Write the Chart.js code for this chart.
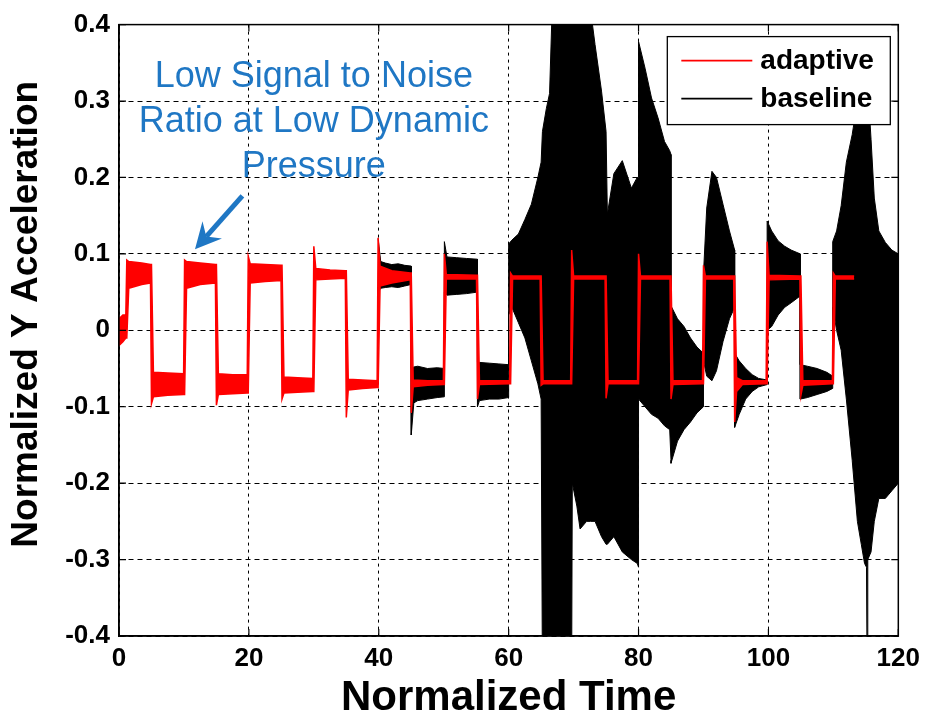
<!DOCTYPE html>
<html>
<head>
<meta charset="utf-8">
<script src="https://cdn.jsdelivr.net/npm/chart.js"></script>
<style>
  html, body { margin: 0; padding: 0; background: #ffffff; }
  #wrap { width: 927px; height: 724px; position: relative; }
</style>
</head>
<body>
<div id="wrap"><canvas id="chart" width="927" height="724"></canvas></div>
<script>
// ---------------- data ----------------
const seriesNames = ['adaptive', 'baseline'];

// "adaptive" (red): running max / min of the noisy square wave.
// At each switching instant the envelope spans both levels (that is the switching stroke).
const adaptiveTime = [
  0, 0.6, 1.05,
  1.2, 1.5, 3.5, 4.85,
  5.0, 5.3, 7.5, 9.95,
  10.1, 10.4, 12.5, 14.85,
  15.0, 15.3, 17.5, 19.75,
  19.9, 20.2, 22.5, 24.95,
  25.1, 25.4, 27.5, 29.85,
  30.0, 30.3, 32.5, 34.85,
  35.0, 35.3, 37.5, 39.75,
  39.9, 40.2, 42, 44.85,
  45.0, 45.3, 47.5, 49.95,
  50.1, 50.4, 55.05,
  55.2, 55.5, 60.15,
  60.3, 60.6, 64.85,
  65.0, 65.3, 69.55,
  69.7, 70.0, 74.85,
  75.0, 75.3, 79.85,
  80.0, 80.3, 84.85,
  85.0, 85.3, 89.85,
  90.0, 90.3, 94.65,
  94.8, 95.1, 96, 99.65,
  99.8, 100.1, 104.85,
  105.0, 105.3, 109.85,
  110.0, 110.3, 113.2
];
const adaptiveUpper = [
  0.015, 0.02, 0.02,
  0.092, 0.09, 0.088, 0.086,
  0.086, -0.055, -0.056, -0.057,
  0.092, 0.09, 0.088, 0.086,
  0.086, -0.057, -0.058, -0.058,
  0.097, 0.087, 0.086, 0.085,
  0.085, -0.061, -0.062, -0.063,
  0.11, 0.081, 0.079, 0.078,
  0.078, -0.064, -0.065, -0.066,
  0.121, 0.084, 0.078, 0.075,
  0.075, -0.065, -0.066, -0.066,
  0.1, 0.073, 0.072,
  0.072, -0.066, -0.066,
  0.075, 0.071, 0.071,
  0.071, -0.066, -0.066,
  0.105, 0.071, 0.071,
  0.071, -0.066, -0.066,
  0.1, 0.071, 0.071,
  0.071, -0.066, -0.066,
  0.085, 0.071, 0.071,
  0.071, -0.062, -0.066, -0.066,
  0.116, 0.072, 0.071,
  0.071, -0.066, -0.066,
  0.075, 0.071, 0.071
];
const adaptiveLower = [
  -0.02, -0.015, -0.01,
  -0.01, 0.055, 0.06, 0.062,
  -0.096, -0.087, -0.085, -0.084,
  -0.084, 0.055, 0.06, 0.062,
  -0.098, -0.084, -0.083, -0.082,
  -0.082, 0.062, 0.064, 0.065,
  -0.09, -0.082, -0.081, -0.08,
  -0.08, 0.066, 0.067, 0.068,
  -0.114, -0.078, -0.076, -0.075,
  -0.075, 0.058, 0.062, 0.066,
  -0.108, -0.074, -0.072, -0.071,
  -0.071, 0.067, 0.067,
  -0.09, -0.071, -0.07,
  -0.07, 0.067, 0.067,
  -0.072, -0.07, -0.07,
  -0.07, 0.067, 0.067,
  -0.089, -0.07, -0.07,
  -0.07, 0.067, 0.067,
  -0.09, -0.071, -0.07,
  -0.07, 0.067, 0.067,
  -0.12, -0.08, -0.071, -0.07,
  -0.07, 0.066, 0.067,
  -0.085, -0.072, -0.07,
  -0.07, 0.067, 0.067
];

// "baseline" (black): running max / min of the oscillation
const baselineTime = [
  39.9, 40.3, 41, 42, 43, 44, 45.0,
  45.0, 45.4, 46, 47.5, 49, 50.1,
  50.1, 50.5, 52, 53.5, 55.2,
  55.2, 55.5, 57, 58.5, 60.0,
  60.0, 60.5, 61.5, 62.5, 63.5, 64.5, 65.0,
  65.2, 65.8, 66.3, 66.8, 68, 69.7,
  69.8, 70.5, 71, 72, 72.6, 73.3, 74.3, 75.0,
  75.2, 76.2, 77.5, 78.9, 79.8, 80.0,
  80.0, 81, 82, 83, 84, 84.8, 85.0,
  85.0, 86, 87, 88, 89, 90.0,
  90.0, 90.5, 91.3, 92, 93, 94, 94.8,
  94.8, 95.5, 96.5, 97.5, 98.5, 99.8,
  99.8, 100.5, 101.5, 102.5, 103.5, 104.9,
  104.9, 106, 107.5, 109, 109.9,
  109.9, 110.5, 111.2, 112, 112.9, 113.7, 114.3, 114.8, 115.1, 115.2, 115.3, 115.8, 116.3, 117, 118, 119, 120
];
const baselineUpper = [
  0.12, 0.09, 0.088, 0.086, 0.087, 0.085, 0.084,
  -0.05, -0.048, -0.047, -0.05, -0.049, -0.05,
  0.116, 0.096, 0.095, 0.094, 0.093,
  -0.042, -0.042, -0.043, -0.044, -0.045,
  0.113, 0.118, 0.126, 0.145, 0.165, 0.2, 0.22,
  0.26, 0.29, 0.31, 0.45, 0.45, 0.45,
  0.45, 0.45, 0.45, 0.45, 0.42, 0.374, 0.313, 0.26,
  0.152, 0.205, 0.222, 0.186, 0.2, 0.2,
  0.378, 0.343, 0.304, 0.278, 0.247, 0.235, 0.23,
  0.032, 0.015, 0.005, -0.01, -0.022, -0.03,
  0.074, 0.16, 0.208, 0.2, 0.165, 0.13, 0.105,
  -0.03, -0.04, -0.05, -0.058, -0.063, -0.065,
  0.143, 0.13, 0.117, 0.11, 0.105, 0.1,
  -0.045, -0.047, -0.05, -0.055, -0.06,
  0.116, 0.13, 0.163, 0.22, 0.256, 0.3, 0.36, 0.36, 0.34, 0.33, 0.32, 0.25, 0.173, 0.13, 0.115, 0.105, 0.1
];
const baselineLower = [
  0.05, 0.055, 0.056, 0.057, 0.056, 0.058, 0.06,
  -0.137, -0.095, -0.092, -0.09, -0.088, -0.087,
  0.05, 0.046, 0.047, 0.048, 0.05,
  -0.1, -0.092, -0.09, -0.09, -0.088,
  0.02, 0.03, 0.01, -0.01, -0.04, -0.07, -0.09,
  -0.45, -0.45, -0.45, -0.45, -0.45, -0.45,
  -0.2, -0.23, -0.26, -0.25, -0.25, -0.25, -0.27, -0.28,
  -0.28, -0.27, -0.29, -0.3, -0.305, -0.31,
  -0.09, -0.1, -0.11, -0.115, -0.125, -0.13, -0.17,
  -0.174, -0.145, -0.13, -0.12, -0.108, -0.1,
  -0.04, -0.06, -0.066, -0.053, -0.015, 0.015, 0.03,
  -0.127, -0.11, -0.09, -0.08, -0.074, -0.071,
  0.0, 0.005, 0.02, 0.03, 0.036, 0.045,
  -0.09, -0.088, -0.084, -0.08, -0.076,
  0.03, 0.0, -0.026, -0.09, -0.17, -0.25, -0.28, -0.305, -0.31, -0.45, -0.3, -0.29, -0.25, -0.22, -0.22, -0.21, -0.2
];

const xTicks = [0, 20, 40, 60, 80, 100, 120];
const xTickLabels = ['0', '20', '40', '60', '80', '100', '120'];
const yTicks = [-0.4, -0.3, -0.2, -0.1, 0, 0.1, 0.2, 0.3, 0.4];
const yTickLabels = ['-0.4', '-0.3', '-0.2', '-0.1', '0', '0.1', '0.2', '0.3', '0.4'];

const xTitle = 'Normalized Time';
const yTitle = 'Normalized Y Acceleration';
const noteLines = ['Low Signal to Noise', 'Ratio at Low Dynamic', 'Pressure'];
const noteAnchor = { x: 30, y: 0.319 };     // data coords of first text line
const arrowFrom = { x: 19.0, y: 0.176 };
const arrowTo = { x: 11.7, y: 0.106 };

// ---------------- styling ----------------
const FONT = '"Liberation Sans", Arial, Helvetica, sans-serif';
const RED = '#ff0000';
const BLACK = '#000000';
const NOTE = '#1f77c4';
const seriesColors = [RED, BLACK];

const toPts = (ts, vs) => ts.map((t, i) => ({ x: t, y: vs[i] }));

const decor = {
  id: 'decor',
  afterDatasetsDraw(chart) {
    const { ctx, chartArea: a, scales } = chart;
    const xs = scales.x, ys = scales.y;
    ctx.save();

    // axes frame
    ctx.strokeStyle = '#000';
    ctx.lineWidth = 1.5;
    ctx.setLineDash([]);
    ctx.strokeRect(a.left, a.top, a.right - a.left, a.bottom - a.top);

    // inward tick marks on all four sides
    ctx.lineWidth = 1.2;
    ctx.beginPath();
    xTicks.forEach(v => {
      const px = xs.getPixelForValue(v);
      ctx.moveTo(px, a.bottom); ctx.lineTo(px, a.bottom - 7);
      ctx.moveTo(px, a.top); ctx.lineTo(px, a.top + 7);
    });
    yTicks.forEach(v => {
      const py = ys.getPixelForValue(v);
      ctx.moveTo(a.left, py); ctx.lineTo(a.left + 7, py);
      ctx.moveTo(a.right, py); ctx.lineTo(a.right - 7, py);
    });
    ctx.stroke();

    // y axis title (rotated), centred a little above the axis middle as in the original
    ctx.fillStyle = '#000';
    ctx.font = 'bold 37px ' + FONT;
    ctx.textAlign = 'center';
    ctx.textBaseline = 'middle';
    ctx.save();
    ctx.translate(27, (a.top + a.bottom) / 2 - 16);
    ctx.rotate(-Math.PI / 2);
    ctx.fillText(yTitle, 0, 0);
    ctx.restore();

    // legend box
    const bw = 223, bh = 88;
    const bx = a.right - 8 - bw, by = a.top + 12;
    ctx.fillStyle = '#fff';
    ctx.fillRect(bx, by, bw, bh);
    ctx.strokeStyle = '#000';
    ctx.lineWidth = 1.3;
    ctx.strokeRect(bx, by, bw, bh);
    ctx.font = 'bold 28px ' + FONT;
    ctx.textAlign = 'left';
    ctx.textBaseline = 'middle';
    seriesNames.forEach((name, i) => {
      const ly = by + 24 + i * 38;
      ctx.strokeStyle = seriesColors[i];
      ctx.lineWidth = 1.6;
      ctx.beginPath(); ctx.moveTo(bx + 14, ly); ctx.lineTo(bx + 85, ly); ctx.stroke();
      ctx.fillStyle = '#000';
      ctx.fillText(name, bx + 93, ly + 1);
    });

    // annotation text
    ctx.fillStyle = NOTE;
    ctx.font = '36px ' + FONT;
    ctx.textAlign = 'center';
    ctx.textBaseline = 'alphabetic';
    const nx = xs.getPixelForValue(noteAnchor.x), ny = ys.getPixelForValue(noteAnchor.y);
    noteLines.forEach((s, i) => ctx.fillText(s, nx, ny + i * 45));

    // annotation arrow
    const x1 = xs.getPixelForValue(arrowFrom.x), y1 = ys.getPixelForValue(arrowFrom.y);
    const x2 = xs.getPixelForValue(arrowTo.x), y2 = ys.getPixelForValue(arrowTo.y);
    const ang = Math.atan2(y2 - y1, x2 - x1);
    const hl = 26, hw = 13, notch = 17;
    const cx = Math.cos(ang), sy = Math.sin(ang);
    const nbx = x2 - notch * cx, nby = y2 - notch * sy;
    const hbx = x2 - hl * cx, hby = y2 - hl * sy;
    ctx.strokeStyle = NOTE;
    ctx.lineWidth = 5;
    ctx.lineCap = 'butt';
    ctx.beginPath(); ctx.moveTo(x1, y1); ctx.lineTo(nbx, nby); ctx.stroke();
    ctx.beginPath();
    ctx.moveTo(x2, y2);
    ctx.lineTo(hbx - hw * sy, hby + hw * cx);
    ctx.lineTo(nbx, nby);
    ctx.lineTo(hbx + hw * sy, hby - hw * cx);
    ctx.closePath();
    ctx.fill();

    ctx.restore();
  }
};

Chart.defaults.font.family = FONT;
Chart.defaults.color = '#000';

new Chart(document.getElementById('chart'), {
  type: 'line',
  data: {
    datasets: [
      // adaptive listed first so it is painted above the baseline
      { label: seriesNames[0] + ' upper', data: toPts(adaptiveTime, adaptiveUpper), order: 0,
        borderColor: RED, backgroundColor: RED, borderWidth: 1.5, pointRadius: 0, tension: 0, fill: '+1' },
      { label: seriesNames[0] + ' lower', data: toPts(adaptiveTime, adaptiveLower), order: 0,
        borderColor: RED, backgroundColor: RED, borderWidth: 1.5, pointRadius: 0, tension: 0, fill: false },
      { label: seriesNames[1] + ' upper', data: toPts(baselineTime, baselineUpper), order: 1,
        borderColor: BLACK, backgroundColor: BLACK, borderWidth: 1, pointRadius: 0, tension: 0, fill: '+1' },
      { label: seriesNames[1] + ' lower', data: toPts(baselineTime, baselineLower), order: 1,
        borderColor: BLACK, backgroundColor: BLACK, borderWidth: 1, pointRadius: 0, tension: 0, fill: false }
    ]
  },
  options: {
    responsive: false,
    animation: false,
    devicePixelRatio: 1,
    layout: { padding: { top: 23, right: 26, left: 0, bottom: 0 } },
    plugins: {
      legend: { display: false },
      tooltip: { enabled: false }
    },
    scales: {
      x: {
        type: 'linear', min: 0, max: 120,
        afterBuildTicks: s => { s.ticks = xTicks.map(v => ({ value: v })); },
        afterFit: s => { s.height = 88; },
        ticks: {
          callback: (v, i) => xTickLabels[i],
          font: { size: 26, weight: 'bold' }, color: '#000', padding: 7, maxRotation: 0
        },
        grid: { color: '#000', lineWidth: 1, drawTicks: false },
        border: { display: true, color: '#000', width: 1.5, dash: [3, 4] },
        title: { display: true, text: xTitle, font: { size: 42, weight: 'bold' }, color: '#000',
                 padding: { top: 0, bottom: 0 } }
      },
      y: {
        type: 'linear', min: -0.4, max: 0.4,
        afterBuildTicks: s => { s.ticks = yTicks.map(v => ({ value: v })); },
        afterFit: s => { s.width = 119; },
        ticks: {
          callback: (v, i) => yTickLabels[i],
          font: { size: 26, weight: 'bold' }, color: '#000', padding: 9
        },
        grid: { color: '#000', lineWidth: 1, drawTicks: false },
        border: { display: true, color: '#000', width: 1.5, dash: [5, 4] },
        title: { display: false }
      }
    }
  },
  plugins: [decor]
});
</script>
</body>
</html>
